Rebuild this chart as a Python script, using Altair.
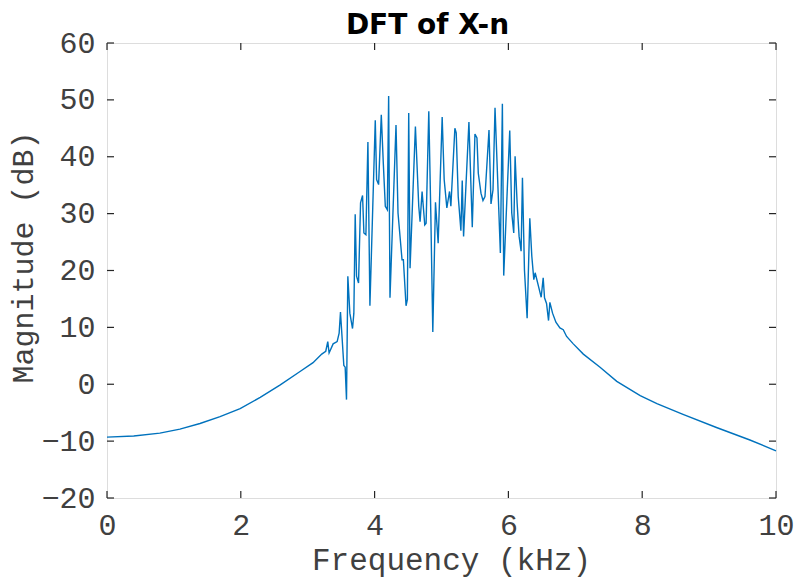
import altair as alt
import pandas as pd

# Frequency (kHz) and magnitude (dB)
freq = [0.00, 0.40, 0.79, 1.09, 1.39, 1.69, 1.99, 2.29, 2.59, 2.88, 3.08, 3.21, 3.27, 3.30, 3.32,
        3.38, 3.44, 3.47, 3.49, 3.54, 3.56, 3.58, 3.60, 3.63, 3.67, 3.69, 3.71, 3.73, 3.76,
        3.79, 3.82, 3.84, 3.87, 3.90, 3.93, 4.01, 4.03, 4.06, 4.10, 4.13, 4.16, 4.19, 4.21,
        4.23, 4.32, 4.35, 4.41, 4.43, 4.47, 4.49, 4.51, 4.53, 4.61, 4.66, 4.68, 4.71, 4.75,
        4.77, 4.81, 4.84, 4.87, 4.91, 4.95, 5.01, 5.04, 5.08, 5.12, 5.14, 5.20, 5.22, 5.25,
        5.29, 5.31, 5.33, 5.41, 5.46, 5.50, 5.53, 5.55, 5.59, 5.62, 5.65, 5.71, 5.74, 5.77,
        5.80, 5.88, 5.91, 5.93, 5.96, 6.02, 6.05, 6.08, 6.10, 6.13, 6.16, 6.19, 6.21, 6.24,
        6.28, 6.32, 6.35, 6.38, 6.40, 6.45, 6.49, 6.52, 6.54, 6.57, 6.60, 6.62, 6.66, 6.71,
        6.77, 6.82, 6.87, 6.97, 7.12, 7.37, 7.62, 7.97, 8.22, 8.61, 9.11, 9.61, 10.00]
mag = [-9.3, -9.1, -8.6, -7.9, -6.9, -5.7, -4.3, -2.3, -0.1, 2.2, 3.8, 5.3, 5.8, 7.5, 5.5,
       7.1, 7.5, 9.0, 12.7, 3.3, 3.0, -2.7, 19.0, 12.5, 9.8, 12.5, 29.9, 19.0, 17.8,
       31.9, 33.2, 26.6, 26.3, 42.6, 13.8, 46.4, 36.0, 35.1, 47.4, 38.9, 31.3, 30.7, 50.7,
       15.2, 45.6, 30.1, 21.9, 21.9, 13.8, 14.9, 47.7, 20.4, 45.3, 31.3, 28.6, 33.9, 28.0,
       28.3, 48.0, 30.1, 9.2, 32.0, 24.8, 47.0, 36.0, 31.0, 33.9, 31.3, 45.0, 44.2, 33.0,
       27.0, 35.8, 26.0, 46.1, 27.6, 44.0, 43.3, 37.1, 33.6, 32.3, 33.0, 44.7, 31.7, 34.2,
       48.6, 23.1, 49.3, 19.1, 27.7, 44.6, 30.1, 26.6, 40.1, 31.9, 26.0, 23.4, 36.3, 20.1,
       11.6, 29.2, 22.5, 18.4, 19.6, 17.2, 15.3, 18.7, 15.2, 14.2, 11.2, 14.4, 12.5, 10.9,
       9.9, 9.6, 8.4, 7.1, 5.3, 3.0, 0.5, -2.0, -3.4, -5.3, -7.6, -9.8, -11.7]

x_ticks = [0, 2, 4, 6, 8, 10]
y_ticks = [-20, -10, 0, 10, 20, 30, 40, 50, 60]

W, H = 669, 455
AX = "#262626"
TXT = "#404040"
MONO = "Liberation Mono"
TL = 7
XT = "Frequency (kHz)"
YT = "Magnitude (dB)"

df = pd.DataFrame({"f": freq, "m": mag})
xt = pd.DataFrame({"v": x_ticks})
yt = pd.DataFrame({"v": y_ticks})

xscale = alt.Scale(domain=[0, 10], nice=False, zero=False)
yscale = alt.Scale(domain=[-20, 60], nice=False, zero=False)

xaxis = alt.Axis(values=x_ticks, grid=False, domain=False, ticks=False, labelFlush=False,
                 labelFont=MONO, labelFontSize=30, labelColor=TXT,
                 labelPadding=12, titleFont=MONO, titleFontSize=31,
                 titleFontWeight="normal", titleColor=TXT, titlePadding=5, titleX=344)
yaxis = alt.Axis(values=y_ticks, grid=False, domain=False, ticks=False, labelFlush=False,
                 labelFont=MONO, labelFontSize=30, labelColor=TXT,
                 labelPadding=12, titleFont=MONO, titleFontSize=30,
                 titleFontWeight="normal", titleColor=TXT, titlePadding=2, titleY=214)

line = alt.Chart(df).mark_line(color="#0072BD", strokeWidth=1.4).encode(
    x=alt.X("f:Q", scale=xscale, title=XT, axis=xaxis),
    y=alt.Y("m:Q", scale=yscale, title=YT, axis=yaxis),
)

rule = dict(color=AX, strokeWidth=1.2)
xb = alt.Chart(xt).mark_rule(**rule).encode(
    x=alt.X("v:Q", scale=xscale, title=XT, axis=xaxis), y=alt.value(H), y2=alt.value(H - TL))
xtop = alt.Chart(xt).mark_rule(**rule).encode(
    x=alt.X("v:Q", scale=xscale, title=XT, axis=xaxis), y=alt.value(0), y2=alt.value(TL))
yl = alt.Chart(yt).mark_rule(**rule).encode(
    y=alt.Y("v:Q", scale=yscale, title=YT, axis=yaxis), x=alt.value(0), x2=alt.value(TL))
yr = alt.Chart(yt).mark_rule(**rule).encode(
    y=alt.Y("v:Q", scale=yscale, title=YT, axis=yaxis), x=alt.value(W), x2=alt.value(W - TL))

chart = alt.layer(line, xb, xtop, yl, yr).properties(
    width=W, height=H,
    title=alt.TitleParams("DFT of X-n", font="DejaVu Sans", fontSize=28,
                          fontWeight="bold", color="#000000", anchor="middle",
                          frame="group", offset=10, dy=22, dx=-14),
    autosize=alt.AutoSizeParams(type="none"),
    padding={"left": 107, "top": 43, "right": 18, "bottom": 80},
).configure_view(stroke=AX, strokeWidth=1.3).configure(background="white")

chart.save("out.html", embed_options={"renderer": "svg", "actions": False})
